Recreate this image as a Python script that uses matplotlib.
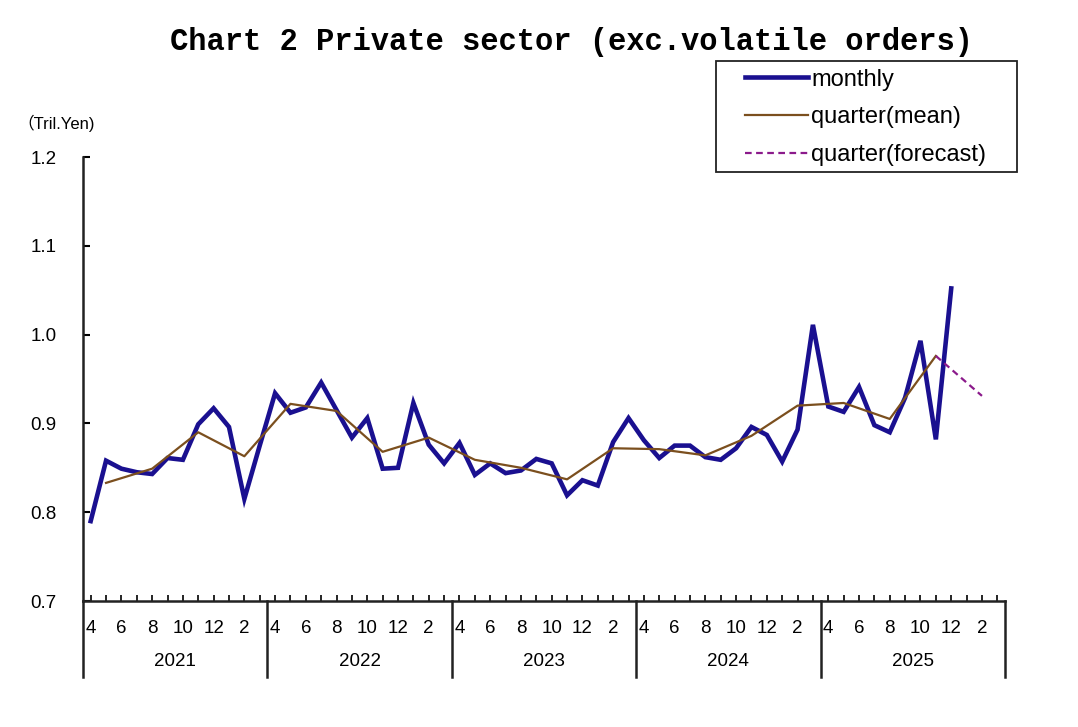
import matplotlib
matplotlib.use('Agg')
import matplotlib.pyplot as plt
from matplotlib.patches import Rectangle
import numpy as np

# monthly values, Apr 2021 .. Dec 2025 (Tril. Yen)
monthly = [0.790, 0.858, 0.849, 0.845, 0.843, 0.861, 0.859, 0.899, 0.917, 0.896, 0.815, 0.875,
           0.934, 0.912, 0.918, 0.946, 0.915, 0.884, 0.906, 0.849, 0.850, 0.923, 0.876, 0.855,
           0.878, 0.842, 0.855, 0.844, 0.847, 0.860, 0.855, 0.819, 0.836, 0.830, 0.879, 0.906,
           0.881, 0.861, 0.875, 0.875, 0.862, 0.859, 0.872, 0.896, 0.887, 0.857, 0.893, 1.011,
           0.919, 0.913, 0.941, 0.898, 0.890, 0.929, 0.993, 0.882, 1.052]
# quarterly means, placed on the middle month of each quarter
quarter = [0.833, 0.849, 0.890, 0.863,
           0.922, 0.914, 0.868, 0.884,
           0.859, 0.850, 0.837, 0.872,
           0.871, 0.864, 0.886, 0.920,
           0.923, 0.905, 0.976]
forecast = [0.976, 0.931]

years = ['2021', '2022', '2023', '2024', '2025']
month_labels = ['4', '', '6', '', '8', '', '10', '', '12', '', '2', '']

navy = '#1a1090'
brown = '#7b4f1e'
purple = '#8b1a8b'

plt.rcParams['font.family'] = ['Liberation Sans', 'Noto Sans CJK JP', 'DejaVu Sans']

fig = plt.figure(figsize=(10.78, 7.27), dpi=100)
ax = fig.add_axes([83 / 1078, 1 - 601 / 727, 922 / 1078, 444 / 727])

n_months = 12 * len(years)
xm = np.arange(len(monthly))
xq = np.arange(len(quarter)) * 3 + 1
xf = [xq[-1], xq[-1] + 3]

l1, = ax.plot(xm, monthly, color=navy, lw=3.3, solid_joinstyle='miter', label='monthly')
l2, = ax.plot(xq, quarter, color=brown, lw=1.6, label='quarter(mean)')
l3, = ax.plot(xf, forecast, color=purple, lw=1.6, ls=(0, (3, 2)), label='quarter(forecast)')

ax.set_xlim(-0.5, n_months - 0.5)
ax.set_ylim(0.7, 1.2)
ax.set_yticks(np.arange(0.7, 1.21, 0.1))
ax.set_yticklabels([f'{v:.1f}' for v in np.arange(0.7, 1.21, 0.1)])
ax.tick_params(axis='y', direction='in', length=5, width=1.5, pad=19, labelsize=13.5)

ax.set_xticks(np.arange(n_months))
ax.set_xticklabels(month_labels * len(years))
ax.tick_params(axis='x', direction='in', length=4, width=1.2, pad=14, labelsize=13.5)

for s in ['top', 'right']:
    ax.spines[s].set_visible(False)
for s in ['left', 'bottom']:
    ax.spines[s].set_linewidth(1.8)
    ax.spines[s].set_color('#222222')

# year separators and labels under the axis
sep_bottom = -(677 - 601) / 444
for k in range(len(years) + 1):
    ax.plot([k * 12 - 0.5] * 2, [0, sep_bottom], transform=ax.get_xaxis_transform(),
            color='#222222', lw=1.8, clip_on=False)
for k, yr in enumerate(years):
    ax.text(k * 12 + 5.5, -(662 - 601) / 444, yr, transform=ax.get_xaxis_transform(),
            ha='center', va='center', fontsize=13.5)

fig.text(17 / 1078, 1 - 123 / 727, '（Tril.Yen)', ha='left', va='center', fontsize=12)

fig.text(571 / 1078, 1 - 42 / 727, 'Chart 2 Private sector (exc.volatile orders)',
         family='Liberation Mono', weight='bold', fontsize=22, ha='center', va='center')

leg = fig.legend(handles=[l1, l2, l3], loc='upper left',
                 bbox_to_anchor=(740 / 1078, 1 - 64 / 727), frameon=False,
                 fontsize=17, handlelength=2.67, handletextpad=0.15, labelspacing=0.66,
                 borderpad=0.2, borderaxespad=0)
fig.patches.append(Rectangle((716 / 1078, 1 - 172 / 727), 301 / 1078, 111 / 727,
                             transform=fig.transFigure, fill=False, ec='#222222', lw=1.3))

fig.savefig('out.png', dpi=100)
